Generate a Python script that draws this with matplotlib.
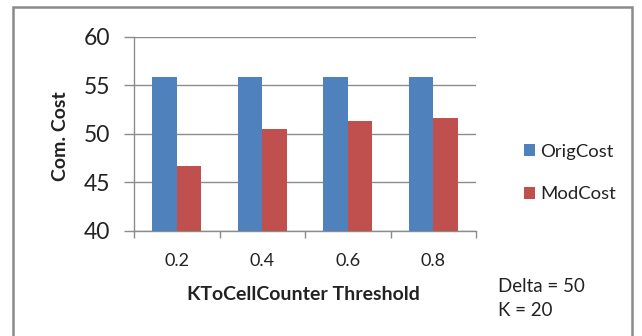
import matplotlib
matplotlib.use("Agg")
import matplotlib.pyplot as plt
from matplotlib.patches import Rectangle, Patch

categories = ["0.2", "0.4", "0.6", "0.8"]
orig_cost = [55.9, 55.9, 55.9, 55.9]
mod_cost = [46.7, 50.5, 51.3, 51.7]
y_ticks = [40, 45, 50, 55, 60]
series_names = ["OrigCost", "ModCost"]

BLUE = "#4F81BD"
RED = "#C0504D"
GRID = "#8C8C8C"
TEXT = "#222222"
FONT = ["Lato", "DejaVu Sans"]

W, H = 642, 336
fig = plt.figure(figsize=(W / 100, H / 100), dpi=100)
plt.rcParams["font.family"] = FONT

# outer chart frame
fig.patches.append(Rectangle((13 / W, -0.05), (632 - 13) / W, 1.05 - 7 / H,
                             transform=fig.transFigure, fill=False,
                             edgecolor="#8A8A8A", linewidth=1.8))

ax = fig.add_axes([134 / W, 1 - 231 / H, 342 / W, 194 / H])

bw = 0.285
xs = [i + 0.5 for i in range(len(categories))]
ax.bar([x - bw / 2 for x in xs], orig_cost, width=bw, color=BLUE,
       bottom=0, zorder=3)
ax.bar([x + bw / 2 for x in xs], mod_cost, width=bw, color=RED,
       bottom=0, zorder=3)

ax.set_xlim(0, len(categories))
ax.set_ylim(40, 60)
ax.set_yticks(y_ticks)
ax.set_yticklabels([str(v) for v in y_ticks], fontsize=16.5, color=TEXT)
ax.yaxis.grid(True, color=GRID, linewidth=1.0, zorder=0)
ax.tick_params(axis="y", length=7, width=1.0, color=GRID, pad=10)

# category boundaries carry the tick marks, labels sit at centres
ax.set_xticks(range(len(categories) + 1))
ax.set_xticklabels([""] * (len(categories) + 1))
ax.set_xticks(xs, minor=True)
ax.set_xticklabels(categories, minor=True, fontsize=13, color=TEXT)
ax.tick_params(axis="x", which="major", length=5, width=1.0, color=GRID)
ax.tick_params(axis="x", which="minor", length=0, pad=16)

for s in ["top", "right"]:
    ax.spines[s].set_visible(False)
for s in ["left", "bottom"]:
    ax.spines[s].set_color(GRID)
    ax.spines[s].set_linewidth(1.0)

fig.text(61 / W, 1 - 136 / H, "Com. Cost", rotation=90, ha="center",
         va="center", fontsize=14, fontweight="bold", color=TEXT)
fig.text(303 / W, 1 - 294 / H, "KToCellCounter Threshold", ha="center",
         va="center", fontsize=14, fontweight="bold", color=TEXT)

handles = [Patch(facecolor=BLUE), Patch(facecolor=RED)]
fig.legend(handles, series_names, loc="center left",
           bbox_to_anchor=(507 / W, 1 - 173 / H), frameon=False,
           fontsize=13.3, handlelength=0.6, handleheight=0.6,
           handletextpad=0.3, labelspacing=1.45, labelcolor=TEXT)

fig.text(498 / W, 1 - 286 / H, "Delta = 50", ha="left", va="center",
         fontsize=13.5, color=TEXT)
fig.text(498 / W, 1 - 310 / H, "K = 20", ha="left", va="center",
         fontsize=13.5, color=TEXT)

fig.savefig("out.png", dpi=100)
